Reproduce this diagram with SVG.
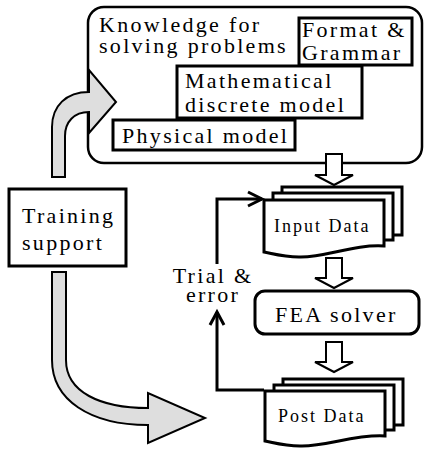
<svg xmlns="http://www.w3.org/2000/svg" width="427" height="449" viewBox="0 0 427 449">
<style>
text{font-family:"Liberation Serif","Times New Roman",Times,serif;fill:#000}
.t22{font-size:22px;letter-spacing:2.3px}
.t18{font-size:18px;letter-spacing:2px}
.box{fill:#fff;stroke:#000;stroke-width:3}
.doc{fill:#fff;stroke:#000;stroke-width:3;stroke-linejoin:miter}
.big{fill:#dedede;stroke:#000;stroke-width:2;stroke-linejoin:miter}
.hol{fill:#fff;stroke:#000;stroke-width:2;stroke-linejoin:miter}
.ln{fill:none;stroke:#000;stroke-width:3}
</style>
<g font-family="Liberation Serif, Times New Roman, serif">
<g id="knowledge">
<rect x="88" y="7" width="334" height="156" rx="16" ry="16" fill="#fff" stroke="#000" stroke-width="2.5"/>
<text class="t22" x="99" y="32">Knowledge for</text>
<text class="t22" x="99" y="53">solving problems</text>
</g>
<g id="format">
<rect class="box" x="299" y="18" width="113" height="47"/>
<text class="t22" x="302" y="37">Format &amp;</text>
<text class="t22" x="302" y="60">Grammar</text>
</g>
<g id="math">
<rect class="box" x="177" y="66" width="185" height="52"/>
<text class="t22" x="185" y="88">Mathematical</text>
<text class="t22" x="185" y="112">discrete model</text>
</g>
<g id="physical">
<rect class="box" x="113" y="120" width="182" height="30"/>
<text class="t22" x="122" y="143">Physical model</text>
</g>
<g id="training">
<rect class="box" x="9" y="189" width="117" height="77" stroke-width="3.5"/>
<text class="t22" x="22" y="223">Training</text>
<text class="t22" x="22" y="250">support</text>
</g>
<g id="input-data">
<rect class="doc" x="282" y="187" width="120" height="48"/>
<rect class="doc" x="273" y="193" width="120" height="47"/>
<path class="doc" d="M264,200 H384 V246 C354,244 324,258 299,257 C284,257 274,254 264,252 Z"/>
<text class="t18" x="274" y="232">Input Data</text>
</g>
<g id="fea">
<rect x="255" y="291" width="164" height="43" rx="10" ry="10" fill="#fff" stroke="#000" stroke-width="3"/>
<text class="t22" x="275" y="322">FEA solver</text>
</g>
<g id="post-data">
<rect class="doc" x="283" y="379" width="120" height="46"/>
<rect class="doc" x="274" y="385" width="120" height="45"/>
<path class="doc" d="M265,391 H385 V436 C355,434 325,447 300,446 C285,446 275,443 265,441 Z"/>
<text class="t18" x="278" y="422">Post Data</text>
</g>
<g id="trial-label">
<text class="t22" x="213" y="283" text-anchor="middle">Trial &amp;</text>
<text class="t22" x="213" y="302" text-anchor="middle">error</text>
</g>
</g>
<g id="connectors">
<path class="big" d="M52,177 V127 C52,106 66,92 89,92 V70 L116,102 L89,133 V112 C74,112 65,122 65,136 V177 Z"/>
<path class="big" d="M52,272 V360 C52,400 90,425 148,425 V443 L205,418 L148,393 V408 C100,408 66,392 66,360 V272 Z"/>
<path class="hol" d="M326,154 H342 V175 H353 L334,185 L315,175 H326 Z"/>
<path class="hol" d="M326,258 H342 V278 H353 L334,288 L315,278 H326 Z"/>
<path class="hol" d="M326,342 H342 V362 H353 L334,372 L315,362 H326 Z"/>
<path class="ln" d="M264,390 H217 V312"/>
<path class="ln" d="M210,325 L217,312 L224,325"/>
<path class="ln" d="M217,264 V199 H262"/>
<path class="ln" d="M248,192 L262,199 L248,206"/>
</g>
</svg>
